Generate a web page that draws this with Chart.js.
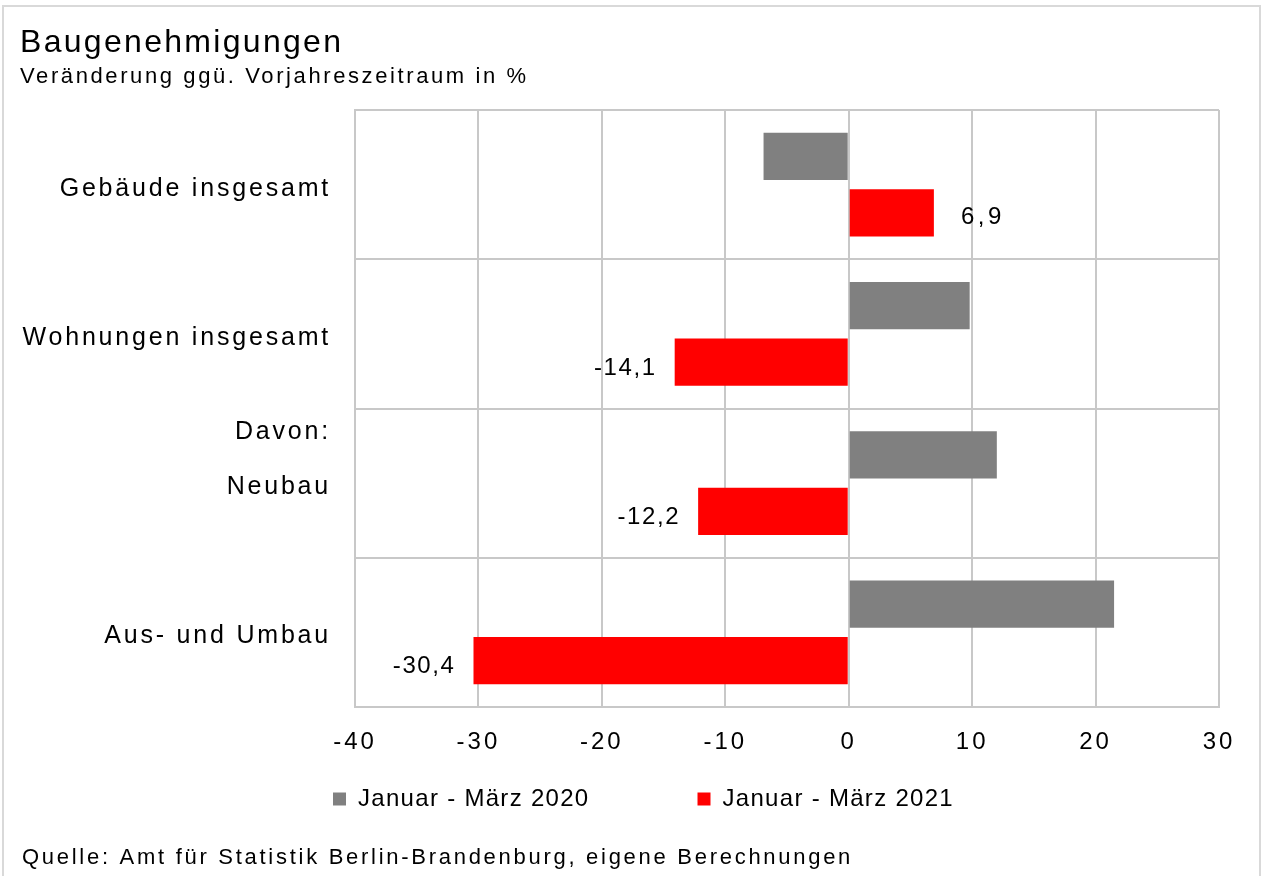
<!DOCTYPE html>
<html>
<head>
<meta charset="utf-8">
<script src="https://cdn.jsdelivr.net/npm/chart.js@4/dist/chart.umd.min.js"></script>
<style>
  body { margin: 0; background: #fff; }
  #wrap { position: absolute; left: 0; top: 0; width: 1263px; height: 876px; }
  #frame { position: absolute; left: 2px; top: 5px; width: 1259px; height: 900px; border: 2px solid #d9d9d9; box-sizing: border-box; pointer-events: none; }
</style>
</head>
<body>
<div id="wrap">
  <canvas id="chart"></canvas>
  <div id="frame"></div>
</div>
<script>
// data
const categories = ['Gebäude insgesamt', 'Wohnungen insgesamt', ['Davon:', '', 'Neubau', '', ''], 'Aus- und Umbau'];
const seriesNames = ['Januar - März 2020', 'Januar - März 2021'];
const values2020 = [-6.9, 9.8, 12.0, 21.5];
const values2021 = [6.9, -14.1, -12.2, -30.4];
const xTicks = [-40, -30, -20, -10, 0, 10, 20, 30];
const titleText = 'Baugenehmigungen';
const subtitleText = 'Veränderung ggü. Vorjahreszeitraum in %';
const sourceText = 'Quelle: Amt für Statistik Berlin-Brandenburg, eigene Berechnungen';

const FONT = 'Liberation Sans, Arial, sans-serif';
const GRID = '#c8c8c8';

// the original text is set quite loosely, so each box gets some letter spacing
function spaced(obj, px, fns) {
  if (!obj || obj._spaced) return;
  fns.forEach(fn => {
    const orig = obj[fn];
    obj[fn] = function (...args) {
      const c = this.ctx;
      const prev = c.letterSpacing;
      c.letterSpacing = px + 'px';
      const r = orig.apply(this, args);
      c.letterSpacing = prev;
      return r;
    };
  });
  obj._spaced = true;
}

const spacing = {
  id: 'spacing',
  beforeLayout(chart) {
    chart.boxes.forEach(b => {
      if (b === chart.legend) {
        spaced(b, 1.3, ['fit', 'draw']);
        if (!b._fixedFit) {
          const fit = b.fit;
          b.fit = function () { fit.call(this); this.height = 60; };
          b._fixedFit = true;
        }
      } else if (b === chart.titleBlock) {
        spaced(b, 2.3, ['draw']);
      } else if (b.options && b.options.text === subtitleText) {
        spaced(b, 2.6, ['draw']);
      }
    });
    spaced(chart.scales.x, 3, ['draw']);
    spaced(chart.scales.y, 2.8, ['draw']);
  },
  afterLayout(chart) {
    // legend sits a bit right of centre and close under the axis labels
    const lg = chart.legend;
    lg.left += 24;
    lg.right += 24;
    lg.top = 679;
    lg.bottom = chart.height;
  }
};

// value labels next to the red bars
const valueLabels = {
  id: 'valueLabels',
  afterDatasetsDraw(chart) {
    const ctx = chart.ctx;
    const meta = chart.getDatasetMeta(1);
    ctx.save();
    ctx.font = '24px ' + FONT;
    ctx.fillStyle = '#000';
    ctx.textBaseline = 'middle';
    meta.data.forEach((bar, i) => {
      const v = values2021[i];
      const txt = v.toFixed(1).replace('.', ',');
      if (v >= 0) {
        ctx.letterSpacing = '3.5px';
        ctx.textAlign = 'left';
        ctx.fillText(txt, bar.x + 27, bar.y + 5);
      } else {
        ctx.letterSpacing = '1.6px';
        ctx.textAlign = 'right';
        ctx.fillText(txt, bar.x - 18, bar.y + 6);
      }
    });
    ctx.restore();
  }
};

// source line at the bottom
const sourceNote = {
  id: 'sourceNote',
  afterDraw(chart) {
    const ctx = chart.ctx;
    ctx.save();
    ctx.font = '22px ' + FONT;
    ctx.letterSpacing = '2.72px';
    ctx.fillStyle = '#000';
    ctx.textAlign = 'left';
    ctx.textBaseline = 'middle';
    ctx.fillText(sourceText, 22, 858);
    ctx.restore();
  }
};

new Chart(document.getElementById('chart'), {
  type: 'bar',
  data: {
    labels: categories,
    datasets: [
      { label: seriesNames[0], data: values2020, backgroundColor: '#808080', borderWidth: 0 },
      { label: seriesNames[1], data: values2021, backgroundColor: '#ff0000', borderWidth: 0 }
    ]
  },
  options: {
    indexAxis: 'y',
    responsive: true,
    maintainAspectRatio: false,
    animation: false,
    categoryPercentage: 0.757,
    barPercentage: 0.84,
    layout: { padding: { left: 20, right: 44, top: 20, bottom: 60 } },
    scales: {
      x: {
        min: -40,
        max: 30,
        afterBuildTicks: (axis) => { axis.ticks = xTicks.map(v => ({ value: v })); },
        afterFit: (axis) => { axis.height = 49; },
        grid: { color: GRID, lineWidth: 2, drawTicks: false },
        border: { color: GRID, width: 2 },
        ticks: { color: '#000', font: { family: FONT, size: 24 }, padding: 21, maxRotation: 0, autoSkip: false }
      },
      y: {
        afterFit: (axis) => { axis.width = 335; },
        grid: { color: GRID, lineWidth: 2, drawTicks: false, offset: true },
        border: { color: GRID, width: 2 },
        ticks: { color: '#000', font: { family: FONT, size: 25, lineHeight: 1.1 }, padding: 24, labelOffset: 4, autoSkip: false }
      }
    },
    plugins: {
      title: {
        display: true,
        text: titleText,
        align: 'start',
        color: '#000',
        font: { family: FONT, size: 32, weight: 'normal' },
        padding: { top: 4, bottom: 0 }
      },
      subtitle: {
        display: true,
        text: subtitleText,
        align: 'start',
        color: '#000',
        font: { family: FONT, size: 22 },
        padding: { top: 1.4, bottom: 19.8 }
      },
      legend: {
        position: 'bottom',
        labels: {
          color: '#000',
          font: { family: FONT, size: 24 },
          boxWidth: 13,
          boxHeight: 13,
          padding: 108
        }
      },
      tooltip: { enabled: false }
    }
  },
  plugins: [spacing, valueLabels, sourceNote]
});
</script>
</body>
</html>
